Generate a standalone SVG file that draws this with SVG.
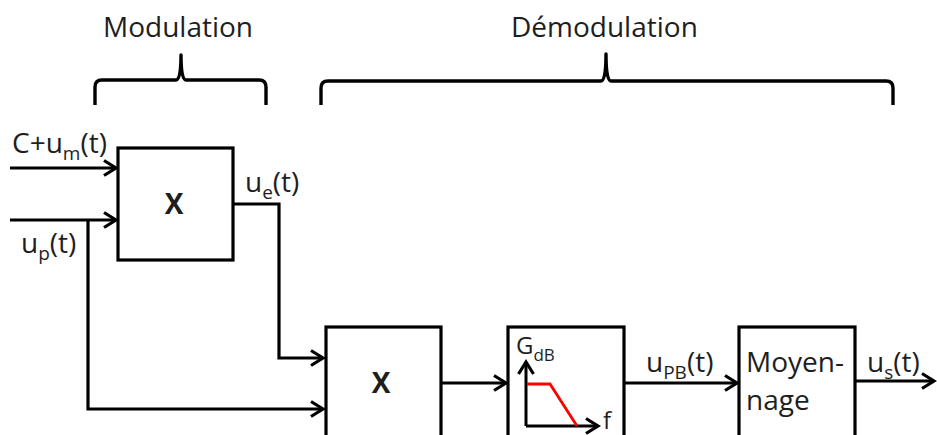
<svg xmlns="http://www.w3.org/2000/svg" width="937" height="435" viewBox="0 0 937 435">
<defs>
<style>
.t{font-family:"Open Sans","Liberation Sans",sans-serif;font-size:28px;fill:#1e1e1e}
.s{font-size:19px}
.x{font-family:"Open Sans","Liberation Sans",sans-serif;font-size:28px;font-weight:bold;fill:#1e1e1e;text-anchor:middle}
.box{fill:#fff;stroke:#000;stroke-width:3.2}
.ln{fill:none;stroke:#000;stroke-width:3.2}
.br{fill:none;stroke:#000;stroke-width:3.4;stroke-linejoin:round}
</style>
<marker id="arr" markerUnits="userSpaceOnUse" markerWidth="20" markerHeight="20" refX="0" refY="0" viewBox="-14 -10 16 20" orient="auto" overflow="visible">
<path d="M-12,-7.5 L0,0 L-12,7.5" fill="none" stroke="#000" stroke-width="3.2" stroke-linejoin="miter"/>
</marker>
</defs>
<rect width="937" height="435" fill="#fff"/>
<g id="brace-modulation">
<path class="br" d="M95,105 L95,87 Q95,80 102,80 L176,80 Q181,80 181,55 Q181,80 186,80 L259,80 Q266,80 266,87 L266,105"/>
<text class="t" x="103" y="37">Modulation</text>
</g>
<g id="brace-demodulation">
<path class="br" d="M321,105 L321,88 Q321,81 328,81 L601,81 Q606,81 606,54 Q606,81 611,81 L886,81 Q893,81 893,88 L893,105"/>
<text class="t" x="511" y="37">Démodulation</text>
</g>
<g id="connectors">
<path class="ln" d="M10,168 L116,168" marker-end="url(#arr)"/>
<path class="ln" d="M10,220 L116,220" marker-end="url(#arr)"/>
<path class="ln" d="M88,220 L88,409 L323,409" marker-end="url(#arr)"/>
<path class="ln" d="M233,204 L279,204 L279,358 L323,358" marker-end="url(#arr)"/>
<path class="ln" d="M441,383 L506,383" marker-end="url(#arr)"/>
<path class="ln" d="M624,383 L737,383" marker-end="url(#arr)"/>
<path class="ln" d="M855,381 L934,381" marker-end="url(#arr)"/>
</g>
<g id="labels">
<text class="t" x="12" y="153">C+u<tspan class="s" dy="7">m</tspan><tspan dy="-7">(t)</tspan></text>
<text class="t" x="21" y="253">u<tspan class="s" dy="7">p</tspan><tspan dy="-7">(t)</tspan></text>
<text class="t" x="245" y="192">u<tspan class="s" dy="7">e</tspan><tspan dy="-7">(t)</tspan></text>
<text class="t" x="646" y="372">u<tspan class="s" dy="7">PB</tspan><tspan dy="-7">(t)</tspan></text>
<text class="t" x="867" y="372">u<tspan class="s" dy="7">s</tspan><tspan dy="-7">(t)</tspan></text>
</g>
<g id="mult1">
<rect class="box" x="118" y="148" width="115" height="112"/>
<text class="x" x="174" y="214">X</text>
</g>
<g id="mult2">
<rect class="box" x="326" y="327" width="115" height="120"/>
<text class="x" x="381" y="393">X</text>
</g>
<g id="filter">
<rect class="box" x="508" y="327" width="116" height="120"/>
<text class="t" x="516" y="354" style="font-size:24px">G<tspan dy="7" style="font-size:17px">dB</tspan></text>
<path class="ln" d="M526,426 L526,362" marker-end="url(#arr)" style="stroke-width:3"/>
<path class="ln" d="M526,426 L598,426" marker-end="url(#arr)" style="stroke-width:3"/>
<path d="M527,384 L550,384 L577,426" fill="none" stroke="#f00" stroke-width="2.8"/>
<text class="t" x="603" y="429" style="font-size:24px">f</text>
</g>
<g id="moyennage">
<rect class="box" x="739" y="327" width="116" height="120"/>
<text class="t" x="746" y="372">Moyen-</text>
<text class="t" x="746" y="410">nage</text>
</g>
</svg>
